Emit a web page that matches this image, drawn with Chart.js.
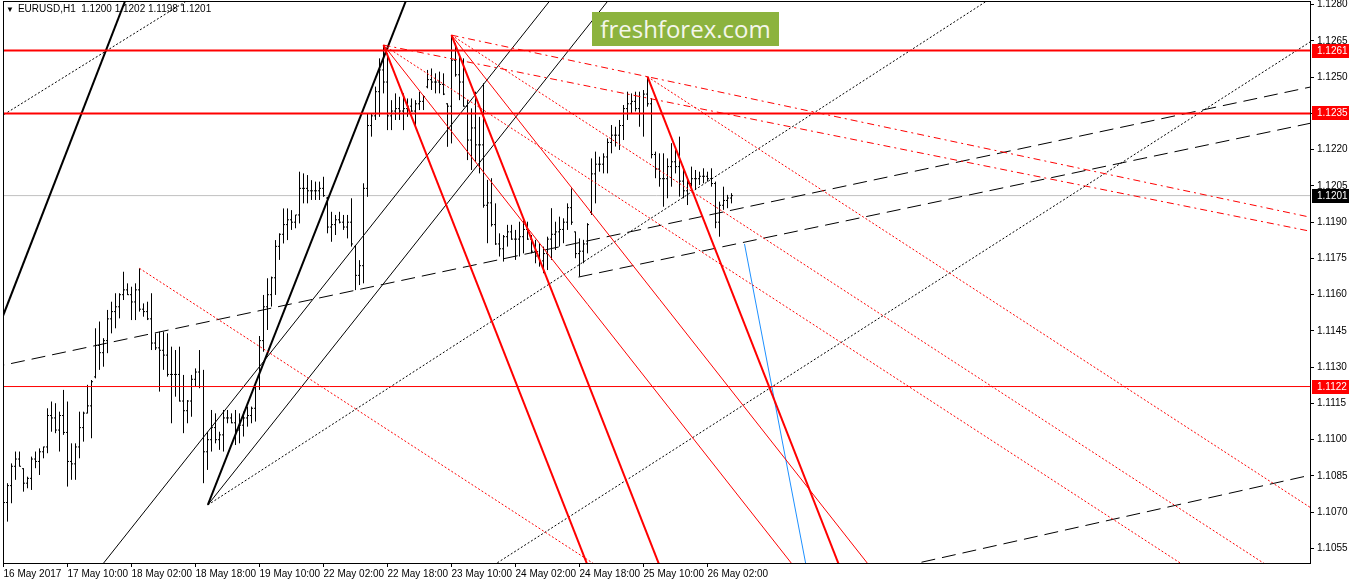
<!DOCTYPE html>
<html>
<head>
<meta charset="utf-8">
<script src="https://cdn.jsdelivr.net/npm/chart.js@4.4.1/dist/chart.umd.min.js"></script>
<style>
  html, body { margin: 0; padding: 0; background: #fff; }
  #wrap { position: relative; width: 1350px; height: 584px; }
  #hdr { position: absolute; left: 6px; top: 3px; font: 10px "Liberation Sans", Arial, sans-serif; color: #000; white-space: pre; }
  #hdr span { font-size: 8px; margin-right: 4px; }
  #logo { position: absolute; left: 592px; top: 12px; width: 187px; height: 34px; background: #8cb33e;
          color: #f4f6ea; font: 24px "Open Sans", sans-serif; line-height: 33px; text-align: center; }
</style>
</head>
<body>
<div id="wrap">
  <canvas id="c" width="1350" height="584"></canvas>
  <div id="hdr"><span>&#9660;</span>EURUSD,H1  1.1200 1.1202 1.1198 1.1201</div>
  <div id="logo">freshforex.com</div>
</div>
<script>
// EURUSD H1, bar 0 = 16 May 18:00
const timeLabels = ['16 May 2017', '17 May 10:00', '18 May 02:00', '18 May 18:00', '19 May 10:00', '22 May 02:00',
  '22 May 18:00', '23 May 10:00', '24 May 02:00', '24 May 18:00', '25 May 10:00', '26 May 02:00'];
const timeTicks = [0, 16, 32, 48, 64, 80, 96, 112, 128, 144, 160, 176];
const priceTicks = [1.1055, 1.1070, 1.1085, 1.1100, 1.1115, 1.1130, 1.1145, 1.1160, 1.1175, 1.1190,
  1.1205, 1.1220, 1.1235, 1.1250, 1.1265, 1.1280];

const opens = [1.1066, 1.1074, 1.1081, 1.1089, 1.1092, 1.1088, 1.1082, 1.1084, 1.1092, 1.1091,
  1.1095, 1.1097, 1.1110, 1.1109, 1.1104, 1.1110, 1.1103, 1.1091, 1.1090, 1.1097,
  1.1105, 1.1111, 1.1114, 1.1126, 1.1139, 1.1136, 1.1141, 1.1150, 1.1153, 1.1155,
  1.1160, 1.1162, 1.1160, 1.1157, 1.1162, 1.1154, 1.1153, 1.1150, 1.1140, 1.1138,
  1.1137, 1.1135, 1.1127, 1.1127, 1.1127, 1.1116, 1.1112, 1.1116, 1.1125, 1.1128,
  1.1122, 1.1095, 1.1100, 1.1105, 1.1100, 1.1102, 1.1109, 1.1109, 1.1107, 1.1104,
  1.1106, 1.1109, 1.1110, 1.1113, 1.1122, 1.1141, 1.1155, 1.1160, 1.1167, 1.1180,
  1.1185, 1.1189, 1.1191, 1.1190, 1.1193, 1.1204, 1.1204, 1.1203, 1.1203, 1.1203,
  1.1204, 1.1200, 1.1188, 1.1189, 1.1191, 1.1190, 1.1188, 1.1190, 1.1180, 1.1168,
  1.1172, 1.1204, 1.1230, 1.1234, 1.1244, 1.1253, 1.1248, 1.1234, 1.1236, 1.1237,
  1.1236, 1.1237, 1.1238, 1.1236, 1.1239, 1.1240, 1.1246, 1.1249, 1.1248, 1.1248,
  1.1247, 1.1239, 1.1238, 1.1257, 1.1251, 1.1248, 1.1238, 1.1224, 1.1229, 1.1222,
  1.1222, 1.1197, 1.1198, 1.1189, 1.1181, 1.1179, 1.1184, 1.1186, 1.1183, 1.1183,
  1.1184, 1.1187, 1.1183, 1.1178, 1.1176, 1.1174, 1.1177, 1.1183, 1.1185, 1.1186,
  1.1187, 1.1190, 1.1196, 1.1186, 1.1177, 1.1178, 1.1181, 1.1194, 1.1210, 1.1214,
  1.1214, 1.1217, 1.1223, 1.1226, 1.1226, 1.1230, 1.1237, 1.1239, 1.1240, 1.1237,
  1.1235, 1.1243, 1.1239, 1.1218, 1.1212, 1.1208, 1.1208, 1.1213, 1.1215, 1.1213,
  1.1207, 1.1203, 1.1206, 1.1208, 1.1208, 1.1209, 1.1209, 1.1208, 1.1206, 1.1190,
  1.1197, 1.1199, 1.1200];
const highs = [1.10827, 1.10820, 1.10902, 1.10951, 1.10951, 1.10882, 1.10847, 1.10930, 1.10951, 1.10964,
  1.10971, 1.11130, 1.11158, 1.11151, 1.11116, 1.11206, 1.11158, 1.10985, 1.10985, 1.11116,
  1.11116, 1.11227, 1.11247, 1.11461, 1.11489, 1.11420, 1.11537, 1.11571, 1.11606, 1.11606,
  1.11695, 1.11647, 1.11633, 1.11647, 1.11709, 1.11564, 1.11571, 1.11606, 1.11440, 1.11447,
  1.11447, 1.11440, 1.11385, 1.11371, 1.11385, 1.11268, 1.11164, 1.11268, 1.11295, 1.11371,
  1.11289, 1.11033, 1.11123, 1.11109, 1.11033, 1.11123, 1.11123, 1.11109, 1.11123, 1.11109,
  1.11116, 1.11137, 1.11137, 1.11220, 1.11429, 1.11599, 1.11668, 1.11675, 1.11826, 1.11854,
  1.11957, 1.11957, 1.11950, 1.11930, 1.12109, 1.12102, 1.12095, 1.12074, 1.12068, 1.12068,
  1.12088, 1.12005, 1.11943, 1.11930, 1.11943, 1.11930, 1.11930, 1.11999, 1.11806, 1.11743,
  1.12061, 1.12350, 1.12350, 1.12461, 1.12578, 1.12633, 1.12600, 1.12405, 1.12433, 1.12419,
  1.12433, 1.12412, 1.12412, 1.12405, 1.12440, 1.12426, 1.12530, 1.12536, 1.12516, 1.12523,
  1.12516, 1.12392, 1.12674, 1.12640, 1.12585, 1.12578, 1.12405, 1.12371, 1.12440, 1.12336,
  1.12475, 1.12075, 1.12082, 1.11978, 1.11854, 1.11847, 1.11889, 1.11889, 1.11868, 1.11902,
  1.11909, 1.11902, 1.11847, 1.11827, 1.11813, 1.11799, 1.11840, 1.11958, 1.11902, 1.11923,
  1.11916, 1.11978, 1.12040, 1.11861, 1.11833, 1.11827, 1.11896, 1.12164, 1.12192, 1.12171,
  1.12185, 1.12247, 1.12302, 1.12295, 1.12323, 1.12385, 1.12440, 1.12433, 1.12440, 1.12440,
  1.12447, 1.12502, 1.12413, 1.12192, 1.12185, 1.12185, 1.12164, 1.12227, 1.12199, 1.12254,
  1.12130, 1.12075, 1.12130, 1.12116, 1.12109, 1.12123, 1.12109, 1.12123, 1.12068, 1.11985,
  1.12047, 1.12013, 1.12020];
const lows = [1.10620, 1.10661, 1.10737, 1.10834, 1.10889, 1.10785, 1.10799, 1.10792, 1.10882, 1.10854,
  1.10923, 1.10944, 1.11033, 1.11027, 1.10951, 1.11020, 1.10806, 1.10834, 1.10834, 1.10923,
  1.10992, 1.11109, 1.11006, 1.11254, 1.11289, 1.11302, 1.11358, 1.11440, 1.11461, 1.11502,
  1.11578, 1.11599, 1.11495, 1.11495, 1.11530, 1.11509, 1.11495, 1.11371, 1.11371, 1.11199,
  1.11289, 1.11261, 1.11068, 1.11178, 1.11158, 1.11027, 1.11068, 1.11095, 1.11220, 1.11213,
  1.10820, 1.10875, 1.10951, 1.10985, 1.10958, 1.10951, 1.11068, 1.11068, 1.10978, 1.10985,
  1.11013, 1.11054, 1.11068, 1.11075, 1.11206, 1.11364, 1.11454, 1.11551, 1.11599, 1.11744,
  1.11812, 1.11826, 1.11868, 1.11875, 1.11895, 1.11978, 1.11978, 1.11992, 1.11992, 1.11992,
  1.12005, 1.11854, 1.11819, 1.11847, 1.11895, 1.11868, 1.11833, 1.11799, 1.11619, 1.11640,
  1.11647, 1.12005, 1.12254, 1.12323, 1.12336, 1.12433, 1.12281, 1.12281, 1.12323, 1.12323,
  1.12281, 1.12336, 1.12357, 1.12295, 1.12364, 1.12364, 1.12454, 1.12447, 1.12433, 1.12433,
  1.12426, 1.12212, 1.12226, 1.12502, 1.12405, 1.12378, 1.12157, 1.12116, 1.12150, 1.12102,
  1.11960, 1.11813, 1.11882, 1.11806, 1.11758, 1.11737, 1.11799, 1.11827, 1.11744, 1.11758,
  1.11771, 1.11827, 1.11771, 1.11730, 1.11716, 1.11689, 1.11702, 1.11744, 1.11785, 1.11799,
  1.11813, 1.11868, 1.11889, 1.11751, 1.11675, 1.11730, 1.11771, 1.11930, 1.11978, 1.12109,
  1.12102, 1.12102, 1.12185, 1.12213, 1.12199, 1.12240, 1.12323, 1.12351, 1.12358, 1.12295,
  1.12254, 1.12378, 1.12164, 1.12082, 1.12047, 1.11964, 1.11999, 1.12047, 1.12102, 1.12006,
  1.11999, 1.11971, 1.12047, 1.12033, 1.12054, 1.12061, 1.12068, 1.12047, 1.11875, 1.11840,
  1.11951, 1.11958, 1.11978];
const closes = [1.1074, 1.1081, 1.1089, 1.1092, 1.1089, 1.1082, 1.1084, 1.1092, 1.1091, 1.1095,
  1.1097, 1.1110, 1.1109, 1.1104, 1.1110, 1.1103, 1.1091, 1.1090, 1.1097, 1.1105,
  1.1111, 1.1114, 1.1124, 1.1139, 1.1136, 1.1141, 1.1150, 1.1153, 1.1155, 1.1160,
  1.1162, 1.1160, 1.1157, 1.1162, 1.1154, 1.1153, 1.1150, 1.1140, 1.1138, 1.1137,
  1.1135, 1.1127, 1.1127, 1.1127, 1.1116, 1.1112, 1.1116, 1.1125, 1.1128, 1.1122,
  1.1095, 1.1100, 1.1105, 1.1100, 1.1102, 1.1109, 1.1109, 1.1107, 1.1104, 1.1106,
  1.1109, 1.1110, 1.1113, 1.1122, 1.1141, 1.1155, 1.1160, 1.1167, 1.1180, 1.1185,
  1.1189, 1.1191, 1.1190, 1.1193, 1.1204, 1.1204, 1.1203, 1.1203, 1.1203, 1.1204,
  1.1201, 1.1188, 1.1189, 1.1191, 1.1190, 1.1188, 1.1190, 1.1181, 1.1168, 1.1172,
  1.1204, 1.1230, 1.1234, 1.1244, 1.1253, 1.1248, 1.1234, 1.1236, 1.1237, 1.1236,
  1.1237, 1.1238, 1.1236, 1.1239, 1.1240, 1.1242, 1.1249, 1.1248, 1.1248, 1.1247,
  1.1243, 1.1238, 1.1257, 1.1251, 1.1248, 1.1238, 1.1224, 1.1229, 1.1222, 1.1222,
  1.1197, 1.1198, 1.1189, 1.1181, 1.1179, 1.1184, 1.1186, 1.1183, 1.1183, 1.1184,
  1.1187, 1.1183, 1.1178, 1.1176, 1.1174, 1.1177, 1.1183, 1.1185, 1.1186, 1.1187,
  1.1190, 1.1196, 1.1190, 1.1177, 1.1178, 1.1181, 1.1189, 1.1210, 1.1214, 1.1214,
  1.1217, 1.1223, 1.1226, 1.1226, 1.1230, 1.1237, 1.1239, 1.1240, 1.1237, 1.1235,
  1.1243, 1.1239, 1.1218, 1.1212, 1.1208, 1.1208, 1.1213, 1.1215, 1.1213, 1.1207,
  1.1203, 1.1206, 1.1208, 1.1208, 1.1209, 1.1209, 1.1208, 1.1206, 1.1190, 1.1197,
  1.1199, 1.1200, 1.1201];

// horizontal levels
const redLevels = [1.1261, 1.1235, 1.1122];
const bidPrice = 1.1201;

// trend lines: [bar, price, bar, price]
const thickBlack = [[-3.25, 1.11379, 31.75, 1.12873], [51.08, 1.10730, 101.95, 1.12873]];
const thinBlack = [[51.08, 1.10730, 153.85, 1.12873], [22.65, 1.10440, 139.3, 1.12873]];
const dotBlack = [[-3.25, 1.12311, 51.75, 1.12877], [51.08, 1.10730, 251.2, 1.12873], [119.25, 1.10446, 331.75, 1.12700]];
const dashBlack = [[-3.25, 1.11297, 331.75, 1.12477], [143.75, 1.11673, 331.75, 1.12327], [219.25, 1.10455, 331.75, 1.10872]];
const thickRed = [[95, 1.12633, 146.97, 1.10440], [112, 1.12674, 164.94, 1.10440], [161, 1.12502, 209.86, 1.10440]];
const thinRed = [[95, 1.12633, 199.3, 1.10440], [112, 1.12674, 218.3, 1.10440]];
const dotRed = [[34, 1.11709, 151.9, 1.10440], [95, 1.12633, 298.8, 1.10440], [112, 1.12674, 319.6, 1.10440], [161, 1.12502, 330, 1.10684]];
const dashRed = [[112, 1.12674, 332, 1.11902], [95, 1.12633, 332, 1.11845]];
const blueLine = [[185.25, 1.11810, 201.1, 1.10440]];

const xMin = -0.125, xMax = 326.625;
const yMin = 1.104898, yMax = 1.128153;

const RED = '#ff0000';

const barPts = [];
highs.forEach((h, i) => {
  barPts.push({ x: i, y: lows[i] }, { x: i, y: h }, { x: i, y: null },
    { x: i - 0.375, y: opens[i] }, { x: i, y: opens[i] }, { x: i, y: null },
    { x: i, y: closes[i] }, { x: i + 0.375, y: closes[i] }, { x: i, y: null });
});

function lineSet(list, color, width, dash) {
  return list.map(s => ({
    data: [{ x: s[0], y: s[1] }, { x: s[2], y: s[3] }],
    borderColor: color, borderWidth: width, borderDash: dash || [],
    pointRadius: 0, order: 1
  }));
}

const datasets = [
  ...lineSet(redLevels.slice(0, 2).map(p => [xMin - 2, p, xMax + 2, p]), RED, 2),
  ...lineSet([[xMin - 2, redLevels[2], xMax + 2, redLevels[2]]], RED, 1),
  ...lineSet(thickRed, RED, 2),
  ...lineSet(thinRed, RED, 1),
  ...lineSet(dotRed, RED, 1, [2, 2]),
  ...lineSet(dashRed, RED, 1, [7, 4, 2, 4]),
  ...lineSet(blueLine, '#1e90ff', 1),
  ...lineSet(thickBlack, '#000', 2),
  ...lineSet(thinBlack, '#000', 1),
  ...lineSet(dotBlack, '#000', 1, [2, 2]),
  ...lineSet(dashBlack, '#000', 1, [14, 7]),
  { data: barPts, borderColor: '#000', borderWidth: 1, pointRadius: 0, spanGaps: false, order: 2 },
  ...lineSet([[xMin - 2, bidPrice, xMax + 2, bidPrice]], '#c0c0c0', 1).map(d => Object.assign(d, { order: 3 }))
];

const framePlugin = {
  id: 'frame',
  afterDraw(chart) {
    const { ctx, chartArea: a, scales } = chart;
    ctx.save();
    ctx.strokeStyle = '#000';
    ctx.lineWidth = 1;
    ctx.strokeRect(a.left + 0.5, a.top + 0.5, a.right - a.left, a.bottom - a.top);
    // price tags on the axis
    const tags = redLevels.map(p => [p, RED]).concat([[bidPrice, '#000']]);
    ctx.font = '10px "Liberation Sans", Arial, sans-serif';
    ctx.textBaseline = 'middle';
    tags.forEach(([p, col]) => {
      const y = Math.round(scales.y.getPixelForValue(p));
      ctx.fillStyle = col;
      ctx.fillRect(a.right + 2, y - 7, 37, 14);
      ctx.fillStyle = '#fff';
      ctx.fillText(p.toFixed(4), a.right + 7, y + 0.5);
    });
    ctx.restore();
  }
};

new Chart(document.getElementById('c'), {
  type: 'line',
  data: { datasets },
  plugins: [framePlugin],
  options: {
    responsive: false,
    animation: false,
    events: [],
    layout: { padding: { left: 3, top: 1, right: 0, bottom: 0 } },
    elements: { line: { tension: 0 } },
    plugins: { legend: { display: false }, tooltip: { enabled: false } },
    scales: {
      x: {
        type: 'linear', min: xMin, max: xMax,
        afterBuildTicks: s => { s.ticks = timeTicks.map(v => ({ value: v })); },
        afterFit: s => { s.height = 21; s.paddingLeft = 0; s.paddingRight = 0; },
        ticks: {
          callback: (v, i) => timeLabels[i], align: 'start', maxRotation: 0, autoSkip: false,
          padding: 1, color: '#000', font: { family: '"Liberation Sans", Arial, sans-serif', size: 10 }
        },
        grid: { display: true, drawOnChartArea: false, tickLength: 4, color: '#000' },
        border: { display: true, color: '#000' }
      },
      y: {
        type: 'linear', position: 'right', min: yMin, max: yMax,
        afterBuildTicks: s => { s.ticks = priceTicks.map(v => ({ value: v })); },
        afterFit: s => { s.width = 40; s.paddingTop = 0; s.paddingBottom = 0; },
        ticks: {
          callback: v => v.toFixed(4), padding: 3, color: '#000',
          font: { family: '"Liberation Sans", Arial, sans-serif', size: 10 }
        },
        grid: { display: true, drawOnChartArea: false, tickLength: 4, color: '#000' },
        border: { display: true, color: '#000' }
      }
    }
  }
});
</script>
</body>
</html>
